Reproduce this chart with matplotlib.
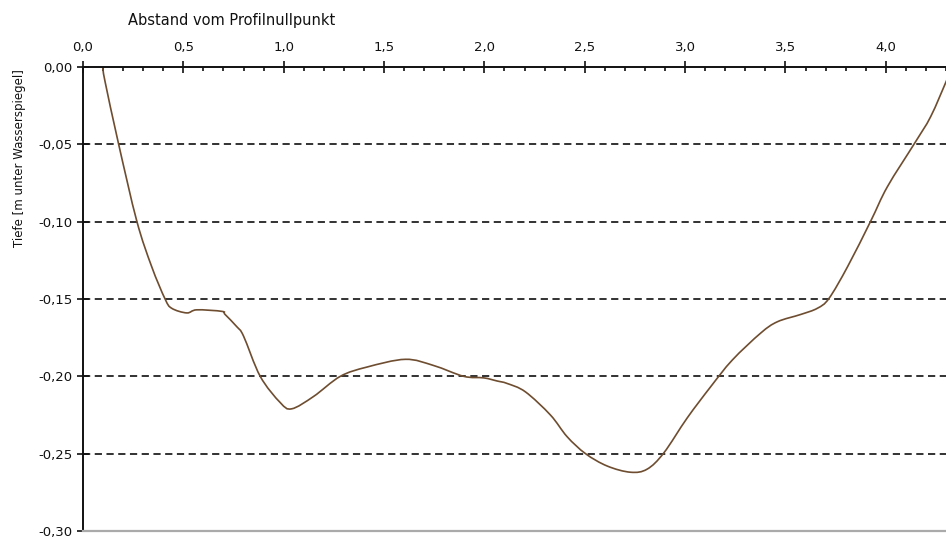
import matplotlib
matplotlib.use("Agg")
import matplotlib.pyplot as plt
from matplotlib.path import Path
from matplotlib.patches import PathPatch
from matplotlib.ticker import FuncFormatter, MultipleLocator

plt.rcParams["font.family"] = ["DejaVu Sans"]

# Profilpunkte (Abstand [m], Tiefe [m])
abstand = [0.098, 0.11, 0.176, 0.268, 0.342, 0.409, 0.442, 0.517, 0.567, 0.692, 0.708,
           0.767, 0.80, 0.883, 0.983, 1.04, 1.149, 1.282, 1.415, 1.606, 1.747, 1.897,
           1.997, 2.063, 2.113, 2.204, 2.329, 2.412, 2.504, 2.612, 2.728, 2.811, 2.894,
           3.01, 3.127, 3.235, 3.377, 3.46, 3.576, 3.659, 3.717, 3.81, 3.925,
           4.008, 4.145, 4.224, 4.304]
tiefe = [0.0, -0.0095, -0.049, -0.0996, -0.129, -0.150, -0.156, -0.159, -0.157, -0.158, -0.160,
         -0.168, -0.174, -0.200, -0.217, -0.221, -0.213, -0.200, -0.194, -0.189, -0.193, -0.200,
         -0.201, -0.203, -0.2046, -0.210, -0.225, -0.239, -0.250, -0.258, -0.262, -0.260, -0.2495,
         -0.227, -0.2068, -0.1895, -0.172, -0.1647, -0.160, -0.156, -0.1496, -0.129, -0.0996,
         -0.0774, -0.049, -0.032, -0.0084]

x_ticks = [0.0, 0.5, 1.0, 1.5, 2.0, 2.5, 3.0, 3.5, 4.0]
y_ticks = [0.00, -0.05, -0.10, -0.15, -0.20, -0.25, -0.30]
grid_levels = [-0.05, -0.10, -0.15, -0.20, -0.25]


def glatt(xs, ys):
    # geglaettete Linie wie im Tabellenprogramm: Bezier durch alle Punkte (Catmull-Rom)
    pts = list(zip(xs, ys))
    verts, codes = [pts[0]], [Path.MOVETO]
    for i in range(len(pts) - 1):
        p0 = pts[max(i - 1, 0)]; p1 = pts[i]; p2 = pts[i + 1]; p3 = pts[min(i + 2, len(pts) - 1)]
        c1 = (p1[0] + (p2[0] - p0[0]) / 6, p1[1] + (p2[1] - p0[1]) / 6)
        c2 = (p2[0] - (p3[0] - p1[0]) / 6, p2[1] - (p3[1] - p1[1]) / 6)
        verts += [c1, c2, p2]; codes += [Path.CURVE4] * 3
    return Path(verts, codes)


fig = plt.figure(figsize=(9.46, 5.41), dpi=100)
ax = fig.add_axes([83 / 946, 1 - 531 / 541, 1 - 83 / 946, (531 - 67) / 541])

ax.hlines(grid_levels, 0, 4.3, colors="#222222", linestyles=(0, (4, 2.5)), linewidth=1.3, zorder=1)
ax.add_patch(PathPatch(glatt(abstand, tiefe), facecolor="none", edgecolor="#6e4d30",
                       linewidth=1.2, zorder=3))

ax.set_xlim(0, 4.3)
ax.set_ylim(-0.30, 0.0)

ax.xaxis.set_ticks_position("top")
ax.xaxis.set_label_position("top")
ax.set_xticks(x_ticks)
ax.xaxis.set_minor_locator(MultipleLocator(0.1))
ax.set_yticks(y_ticks)

komma1 = FuncFormatter(lambda v, p: f"{v:.1f}".replace(".", ","))
komma2 = FuncFormatter(lambda v, p: f"{v:.2f}".replace(".", ",").replace("-0,00", "0,00"))
ax.xaxis.set_major_formatter(komma1)
ax.yaxis.set_major_formatter(komma2)

ax.tick_params(axis="x", which="major", direction="inout", length=9, width=1.2,
               labelsize=9.5, pad=5, colors="#111111")
ax.tick_params(axis="x", which="minor", direction="in", length=3, width=1.2, colors="#111111")
ax.tick_params(axis="y", which="major", direction="inout", length=9, width=1.2,
               labelsize=9.5, pad=3, colors="#111111")

for s in ("left", "top"):
    ax.spines[s].set_color("#111111")
    ax.spines[s].set_linewidth(1.4)
ax.spines["bottom"].set_color("#aaaaaa")
ax.spines["bottom"].set_linewidth(1.6)
ax.spines["right"].set_visible(False)
ax.spines["top"].set_zorder(4)

fig.text(232 / 946, 1 - 20 / 541, "Abstand vom Profilnullpunkt", ha="center", va="center",
         fontsize=10.5, color="#111111")
fig.text(20 / 946, 1 - 158 / 541, "Tiefe [m unter Wasserspiegel]", ha="center", va="center",
         rotation=90, fontsize=8.5, color="#111111")

fig.savefig("out.png", dpi=100)
